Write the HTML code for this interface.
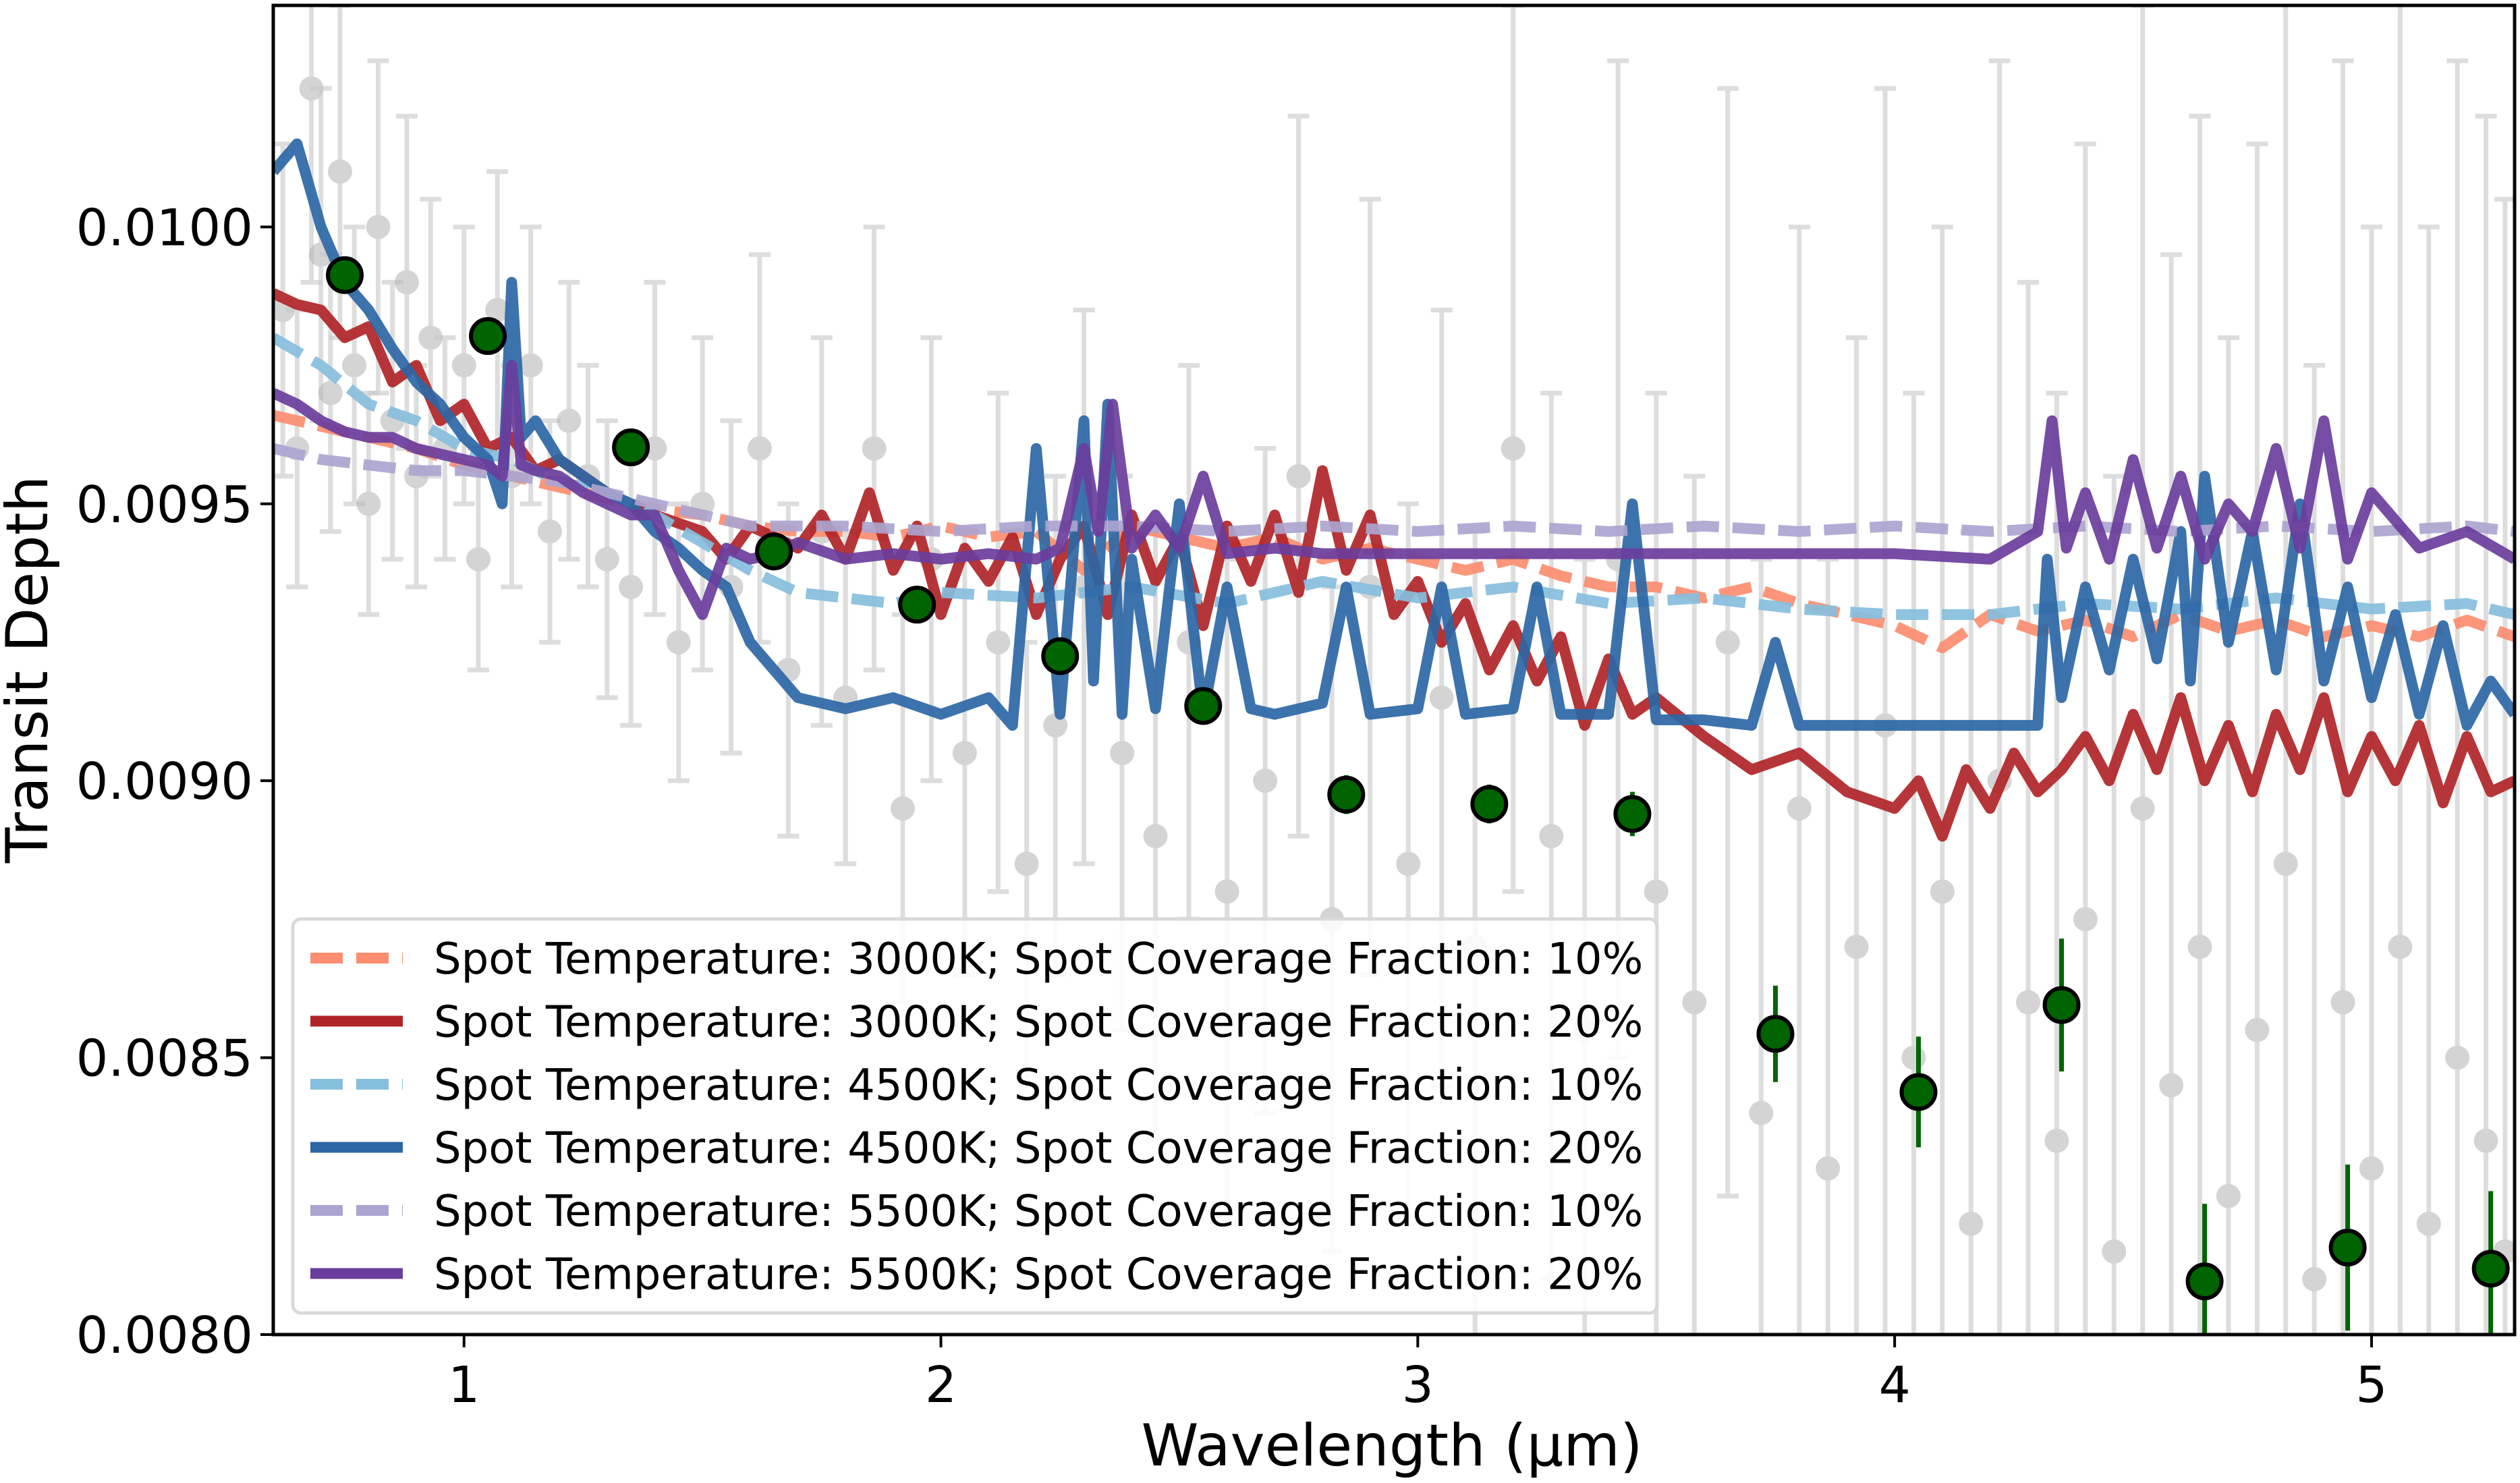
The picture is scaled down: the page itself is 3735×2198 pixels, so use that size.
<!DOCTYPE html>
<html><head><meta charset="utf-8"><style>
html,body{margin:0;padding:0;background:#fff;overflow:hidden;width:3735px;height:2198px;}
svg{display:block;font-family:"DejaVu Sans","Liberation Sans",sans-serif;}
</style></head><body>
<svg id="chart" width="3735" height="2198" viewBox="0 0 3735 2198" xmlns="http://www.w3.org/2000/svg">
<defs><clipPath id="plotclip"><rect x="405" y="8" width="3322" height="1970"/></clipPath></defs>
<rect x="0" y="0" width="3735" height="2198" fill="#fff"/>
<g id="gray" clip-path="url(#plotclip)"></g>
<g id="models" clip-path="url(#plotclip)"></g>
<g id="green" clip-path="url(#plotclip)"></g>
<rect x="405" y="8" width="3322" height="1970" fill="none" stroke="#000" stroke-width="5"/>
<g id="axes"></g>
<text x="2063" y="2172" font-size="86" text-anchor="middle">Wavelength (µm)</text>
<text transform="translate(70,992) rotate(-90)" font-size="86" text-anchor="middle">Transit Depth</text>
<g id="legend"></g>
</svg>
<script>
const NS="http://www.w3.org/2000/svg";
// axis domain
const xMin=0.6,xMax=5.3,yMin=0.0080,yMax=0.0104;
const xTicks=[1,2,3,4,5];
const xTickLabels=["1","2","3","4","5"];
const yTicks=[0.0080,0.0085,0.0090,0.0095,0.0100];
const yTickLabels=["0.0080","0.0085","0.0090","0.0095","0.0100"];

// binned data (green)
const binWl=[0.75,1.05,1.35,1.65,1.95,2.25,2.55,2.85,3.15,3.45,3.75,4.05,4.35,4.65,4.95,5.25];
const binDepth=[0.009913,0.009803,0.009602,0.009414,0.009318,0.009225,0.009135,0.008975,0.008958,0.008940,0.008543,0.008438,0.008595,0.008096,0.008157,0.008119];
const binErr=[0.00001,0.00001,0.00001,0.00001,0.00001,0.00002,0.00003,0.000035,0.000035,0.00004,0.000087,0.0001,0.00012,0.00014,0.00015,0.00014];

// raw data (gray)
const rawWl=[0.62,0.65,0.68,0.7,0.72,0.74,0.77,0.8,0.82,0.85,0.88,0.9,0.93,0.96,1.0,1.03,1.07,1.1,1.14,1.18,1.22,1.26,1.3,1.35,1.4,1.45,1.5,1.56,1.62,1.68,1.75,1.8,1.86,1.92,1.98,2.05,2.12,2.18,2.24,2.3,2.38,2.45,2.52,2.6,2.68,2.75,2.82,2.9,2.98,3.05,3.12,3.2,3.28,3.35,3.42,3.5,3.58,3.65,3.72,3.8,3.86,3.92,3.98,4.04,4.1,4.16,4.22,4.28,4.34,4.4,4.46,4.52,4.58,4.64,4.7,4.76,4.82,4.88,4.94,5.0,5.06,5.12,5.18,5.24,5.28];
const rawDepth=[0.00985,0.00960,0.01025,0.00995,0.00970,0.01010,0.00975,0.00950,0.01000,0.00965,0.00990,0.00955,0.00980,0.00960,0.00975,0.00940,0.00985,0.00955,0.00975,0.00945,0.00965,0.00955,0.00940,0.00935,0.00960,0.00925,0.00950,0.00935,0.00960,0.00920,0.00945,0.00915,0.00960,0.00895,0.00940,0.00905,0.00925,0.00885,0.00910,0.00935,0.00905,0.00890,0.00925,0.00880,0.00900,0.00955,0.00875,0.00935,0.00885,0.00915,0.00870,0.00960,0.00890,0.00855,0.00940,0.00880,0.00860,0.00925,0.00840,0.00895,0.00830,0.00870,0.00910,0.00850,0.00880,0.00820,0.00900,0.00860,0.00835,0.00875,0.00815,0.00895,0.00845,0.00870,0.00825,0.00855,0.00885,0.00810,0.00860,0.00830,0.00870,0.00820,0.00850,0.00835,0.00815];
const rawErr=[0.00030,0.00025,0.00035,0.00030,0.00025,0.00030,0.00025,0.00020,0.00030,0.00025,0.00030,0.00020,0.00025,0.00020,0.00025,0.00020,0.00025,0.00020,0.00025,0.00020,0.00025,0.00020,0.00025,0.00025,0.00030,0.00025,0.00030,0.00030,0.00035,0.00030,0.00035,0.00030,0.00040,0.00035,0.00040,0.00040,0.00045,0.00040,0.00045,0.00050,0.00050,0.00055,0.00050,0.00060,0.00060,0.00065,0.00060,0.00070,0.00065,0.00070,0.00075,0.00080,0.00080,0.00085,0.00090,0.00090,0.00095,0.00100,0.00100,0.00105,0.00110,0.00110,0.00115,0.00120,0.00120,0.00125,0.00130,0.00130,0.00135,0.00140,0.00140,0.00145,0.00150,0.00150,0.00155,0.00160,0.00160,0.00165,0.00170,0.00170,0.00175,0.00180,0.00180,0.00185,0.00190];

// model spectra
const orangeWl=[0.6,0.7,0.8,0.9,1.0,1.1,1.2,1.3,1.4,1.5,1.6,1.7,1.8,1.9,2.0,2.1,2.2,2.3,2.4,2.5,2.6,2.7,2.8,2.9,3.0,3.1,3.2,3.3,3.4,3.5,3.6,3.7,3.8,3.9,4.0,4.1,4.2,4.3,4.4,4.5,4.6,4.7,4.8,4.9,5.0,5.1,5.2,5.3];
const orangeDepth=[0.00966,0.00964,0.00962,0.00960,0.00957,0.00955,0.00953,0.00951,0.00949,0.00948,0.00946,0.00945,0.00945,0.00944,0.00946,0.00944,0.00945,0.00938,0.00946,0.00944,0.00942,0.00944,0.00940,0.00942,0.00940,0.00938,0.00940,0.00937,0.00935,0.00935,0.00933,0.00935,0.00932,0.00930,0.00928,0.00924,0.00930,0.00927,0.00929,0.00926,0.00930,0.00927,0.00929,0.00926,0.00928,0.00926,0.00929,0.00926];
const redWl=[0.6,0.65,0.7,0.75,0.8,0.85,0.9,0.95,1.0,1.05,1.1,1.15,1.2,1.3,1.4,1.5,1.55,1.6,1.7,1.75,1.8,1.85,1.9,1.95,2.0,2.05,2.1,2.15,2.2,2.25,2.3,2.35,2.4,2.45,2.5,2.55,2.6,2.65,2.7,2.75,2.8,2.85,2.9,2.95,3.0,3.05,3.1,3.15,3.2,3.25,3.3,3.35,3.4,3.45,3.5,3.6,3.7,3.8,3.9,4.0,4.05,4.1,4.15,4.2,4.25,4.3,4.35,4.4,4.45,4.5,4.55,4.6,4.65,4.7,4.75,4.8,4.85,4.9,4.95,5.0,5.05,5.1,5.15,5.2,5.25,5.3];
const redDepth=[0.00988,0.00986,0.00985,0.00980,0.00982,0.00972,0.00975,0.00965,0.00968,0.00960,0.00962,0.00956,0.00958,0.00952,0.00948,0.00945,0.00940,0.00946,0.00942,0.00948,0.00940,0.00952,0.00938,0.00946,0.00930,0.00942,0.00936,0.00944,0.00930,0.00940,0.00946,0.00930,0.00948,0.00936,0.00944,0.00928,0.00946,0.00936,0.00948,0.00934,0.00956,0.00938,0.00948,0.00930,0.00936,0.00925,0.00932,0.00920,0.00928,0.00918,0.00926,0.00910,0.00922,0.00912,0.00915,0.00908,0.00902,0.00905,0.00898,0.00895,0.00900,0.00890,0.00902,0.00895,0.00905,0.00898,0.00902,0.00908,0.00900,0.00912,0.00902,0.00915,0.00900,0.00910,0.00898,0.00912,0.00902,0.00915,0.00898,0.00908,0.00900,0.00910,0.00896,0.00908,0.00898,0.00900];
const lblueWl=[0.6,0.7,0.8,0.9,1.0,1.1,1.2,1.3,1.4,1.5,1.6,1.7,1.8,1.9,2.0,2.2,2.4,2.6,2.8,3.0,3.2,3.4,3.6,3.8,4.0,4.2,4.4,4.6,4.8,5.0,5.2,5.3];
const lblueDepth=[0.00980,0.00975,0.00968,0.00965,0.00960,0.00958,0.00954,0.00952,0.00948,0.00943,0.00938,0.00934,0.00933,0.00932,0.00934,0.00933,0.00935,0.00932,0.00936,0.00933,0.00935,0.00932,0.00933,0.00931,0.00930,0.00930,0.00932,0.00931,0.00933,0.00931,0.00932,0.00930];
const blueWl=[0.6,0.62,0.65,0.7,0.75,0.8,0.85,0.9,0.95,1.0,1.05,1.08,1.1,1.12,1.15,1.2,1.25,1.3,1.35,1.4,1.45,1.5,1.55,1.6,1.65,1.7,1.8,1.9,2.0,2.1,2.15,2.2,2.25,2.3,2.32,2.35,2.38,2.4,2.45,2.5,2.55,2.6,2.65,2.7,2.8,2.85,2.9,3.0,3.05,3.1,3.2,3.25,3.3,3.4,3.45,3.5,3.6,3.7,3.75,3.8,3.9,4.0,4.1,4.2,4.3,4.32,4.35,4.4,4.45,4.5,4.55,4.6,4.62,4.65,4.7,4.75,4.8,4.85,4.9,4.95,5.0,5.05,5.1,5.15,5.2,5.25,5.3];
const blueDepth=[0.01010,0.01012,0.01015,0.01000,0.00990,0.00985,0.00978,0.00972,0.00968,0.00962,0.00958,0.00950,0.00990,0.00962,0.00965,0.00958,0.00955,0.00952,0.00950,0.00945,0.00942,0.00938,0.00935,0.00925,0.00920,0.00915,0.00913,0.00915,0.00912,0.00915,0.00910,0.00960,0.00912,0.00965,0.00918,0.00968,0.00912,0.00940,0.00913,0.00950,0.00912,0.00935,0.00913,0.00912,0.00914,0.00935,0.00912,0.00913,0.00935,0.00912,0.00913,0.00935,0.00912,0.00912,0.00950,0.00911,0.00911,0.00910,0.00925,0.00910,0.00910,0.00910,0.00910,0.00910,0.00910,0.00940,0.00915,0.00935,0.00920,0.00940,0.00922,0.00945,0.00918,0.00955,0.00925,0.00945,0.00920,0.00950,0.00918,0.00935,0.00915,0.00930,0.00912,0.00928,0.00910,0.00918,0.00912];
const lavWl=[0.6,0.7,0.8,0.9,1.0,1.1,1.2,1.3,1.4,1.5,1.6,1.8,2.0,2.2,2.4,2.6,2.8,3.0,3.2,3.4,3.6,3.8,4.0,4.2,4.4,4.6,4.8,5.0,5.2,5.3];
const lavDepth=[0.00960,0.00958,0.00957,0.00956,0.00956,0.00955,0.00954,0.00952,0.00950,0.00948,0.00946,0.00946,0.00945,0.00946,0.00946,0.00945,0.00946,0.00945,0.00946,0.00945,0.00946,0.00945,0.00946,0.00945,0.00946,0.00945,0.00946,0.00945,0.00946,0.00945];
const purpleWl=[0.6,0.65,0.7,0.75,0.8,0.85,0.9,0.95,1.0,1.05,1.08,1.1,1.12,1.15,1.2,1.25,1.3,1.35,1.4,1.45,1.5,1.55,1.6,1.65,1.7,1.8,1.9,2.0,2.1,2.2,2.25,2.3,2.33,2.36,2.4,2.45,2.5,2.55,2.6,2.7,2.8,3.0,3.2,3.4,3.6,3.8,4.0,4.2,4.3,4.33,4.36,4.4,4.45,4.5,4.55,4.6,4.65,4.7,4.75,4.8,4.85,4.9,4.95,5.0,5.1,5.2,5.3];
const purpleDepth=[0.00970,0.00968,0.00965,0.00963,0.00962,0.00962,0.00960,0.00959,0.00958,0.00957,0.00955,0.00975,0.00957,0.00956,0.00955,0.00952,0.00950,0.00948,0.00948,0.00938,0.00930,0.00942,0.00940,0.00941,0.00943,0.00940,0.00941,0.00940,0.00941,0.00940,0.00942,0.00960,0.00945,0.00968,0.00942,0.00948,0.00942,0.00955,0.00941,0.00942,0.00941,0.00941,0.00941,0.00941,0.00941,0.00941,0.00941,0.00940,0.00945,0.00965,0.00942,0.00952,0.00940,0.00958,0.00942,0.00955,0.00940,0.00950,0.00945,0.00960,0.00942,0.00965,0.00940,0.00952,0.00942,0.00945,0.00940];

const L=405,R=3727,T=8,B=1978;
function xs(v){return L+(v-xMin)/(xMax-xMin)*(R-L);}
function ys(v){return B-(v-yMin)/(yMax-yMin)*(B-T);}
function el(tag,attrs,parent){const e=document.createElementNS(NS,tag);for(const k in attrs)e.setAttribute(k,attrs[k]);parent.appendChild(e);return e;}

// gray raw data
const gG=document.getElementById('gray');
for(let i=0;i<rawWl.length;i++){
  const x=xs(rawWl[i]),y=ys(rawDepth[i]),y1=ys(rawDepth[i]+rawErr[i]),y2=ys(rawDepth[i]-rawErr[i]);
  const g=el('g',{opacity:'0.6'},gG);
  
  
  el('line',{x1:x,x2:x,y1:y1,y2:y2,stroke:'#c8c8c8','stroke-width':7},g);
  el('line',{x1:x-16,x2:x+16,y1:y1,y2:y1,stroke:'#c8c8c8','stroke-width':7},g);
  el('line',{x1:x-16,x2:x+16,y1:y2,y2:y2,stroke:'#c8c8c8','stroke-width':7},g);
  el('circle',{cx:x,cy:y,r:18,fill:'#b8b8b8'},g);
}

// models
const models=[
 {wl:orangeWl,d:orangeDepth,c:'#fc8d6f',dash:true,name:'model-3000k-10pct',label:'Spot Temperature: 3000K; Spot Coverage Fraction: 10%'},
 {wl:redWl,d:redDepth,c:'#b02427',dash:false,name:'model-3000k-20pct',label:'Spot Temperature: 3000K; Spot Coverage Fraction: 20%'},
 {wl:lblueWl,d:lblueDepth,c:'#86bedd',dash:true,name:'model-4500k-10pct',label:'Spot Temperature: 4500K; Spot Coverage Fraction: 10%'},
 {wl:blueWl,d:blueDepth,c:'#2d67a5',dash:false,name:'model-4500k-20pct',label:'Spot Temperature: 4500K; Spot Coverage Fraction: 20%'},
 {wl:lavWl,d:lavDepth,c:'#aba4cf',dash:true,name:'model-5500k-10pct',label:'Spot Temperature: 5500K; Spot Coverage Fraction: 10%'},
 {wl:purpleWl,d:purpleDepth,c:'#6a3d9c',dash:false,name:'model-5500k-20pct',label:'Spot Temperature: 5500K; Spot Coverage Fraction: 20%'}
];
const gM=document.getElementById('models');
models.forEach(m=>{
  const pts=m.wl.map((w,i)=>xs(w).toFixed(1)+','+ys(m.d[i]).toFixed(1)).join(' ');
  const p=el('polyline',{points:pts,fill:'none',stroke:m.c,'stroke-width':16,'stroke-linejoin':'round',opacity:'0.92'},gM);
  if(m.dash)p.setAttribute('stroke-dasharray','48 20');
  
  
});

// green binned
const gGr=document.getElementById('green');
for(let i=0;i<binWl.length;i++){
  const x=xs(binWl[i]),y=ys(binDepth[i]);
  const g=el('g',{},gGr);
  
  
  el('line',{x1:x,x2:x,y1:ys(binDepth[i]+binErr[i]),y2:ys(binDepth[i]-binErr[i]),stroke:'#006400','stroke-width':7},g);
  el('circle',{cx:x,cy:y,r:25,fill:'#006400',stroke:'#000','stroke-width':6},g);
}

// axes
const gA=document.getElementById('axes');
xTicks.forEach((t,i)=>{
  const x=xs(t);
  const l=el('line',{x1:x,x2:x,y1:B,y2:B+19,stroke:'#000','stroke-width':4},gA);
  
  
  const tx=el('text',{x:x,y:B+100,'font-size':74,'text-anchor':'middle'},gA);
  tx.textContent=xTickLabels[i];
  
  
});
yTicks.forEach((t,i)=>{
  const y=ys(t);
  const l=el('line',{x1:L-19,x2:L,y1:y,y2:y,stroke:'#000','stroke-width':4},gA);
  
  
  const tx=el('text',{x:L-30,y:y+27,'font-size':75,'text-anchor':'end'},gA);
  tx.textContent=yTickLabels[i];
  
  
});

// legend
const gL=document.getElementById('legend');
el('rect',{x:434,y:1362,width:2022,height:584,rx:12,fill:'#fff','fill-opacity':'0.85',stroke:'#d9d9d9','stroke-width':5},gL);
models.forEach((m,i)=>{
  const y=1420+i*93.5;
  const g=el('g',{},gL);
  
  
  const l=el('line',{x1:460,x2:597,y1:y,y2:y,stroke:m.c,'stroke-width':16},g);
  if(m.dash)l.setAttribute('stroke-dasharray','48 20');
  const t=el('text',{x:643,y:y+23,'font-size':64},g);
  t.textContent=m.label;
});
</script>
</body></html>
